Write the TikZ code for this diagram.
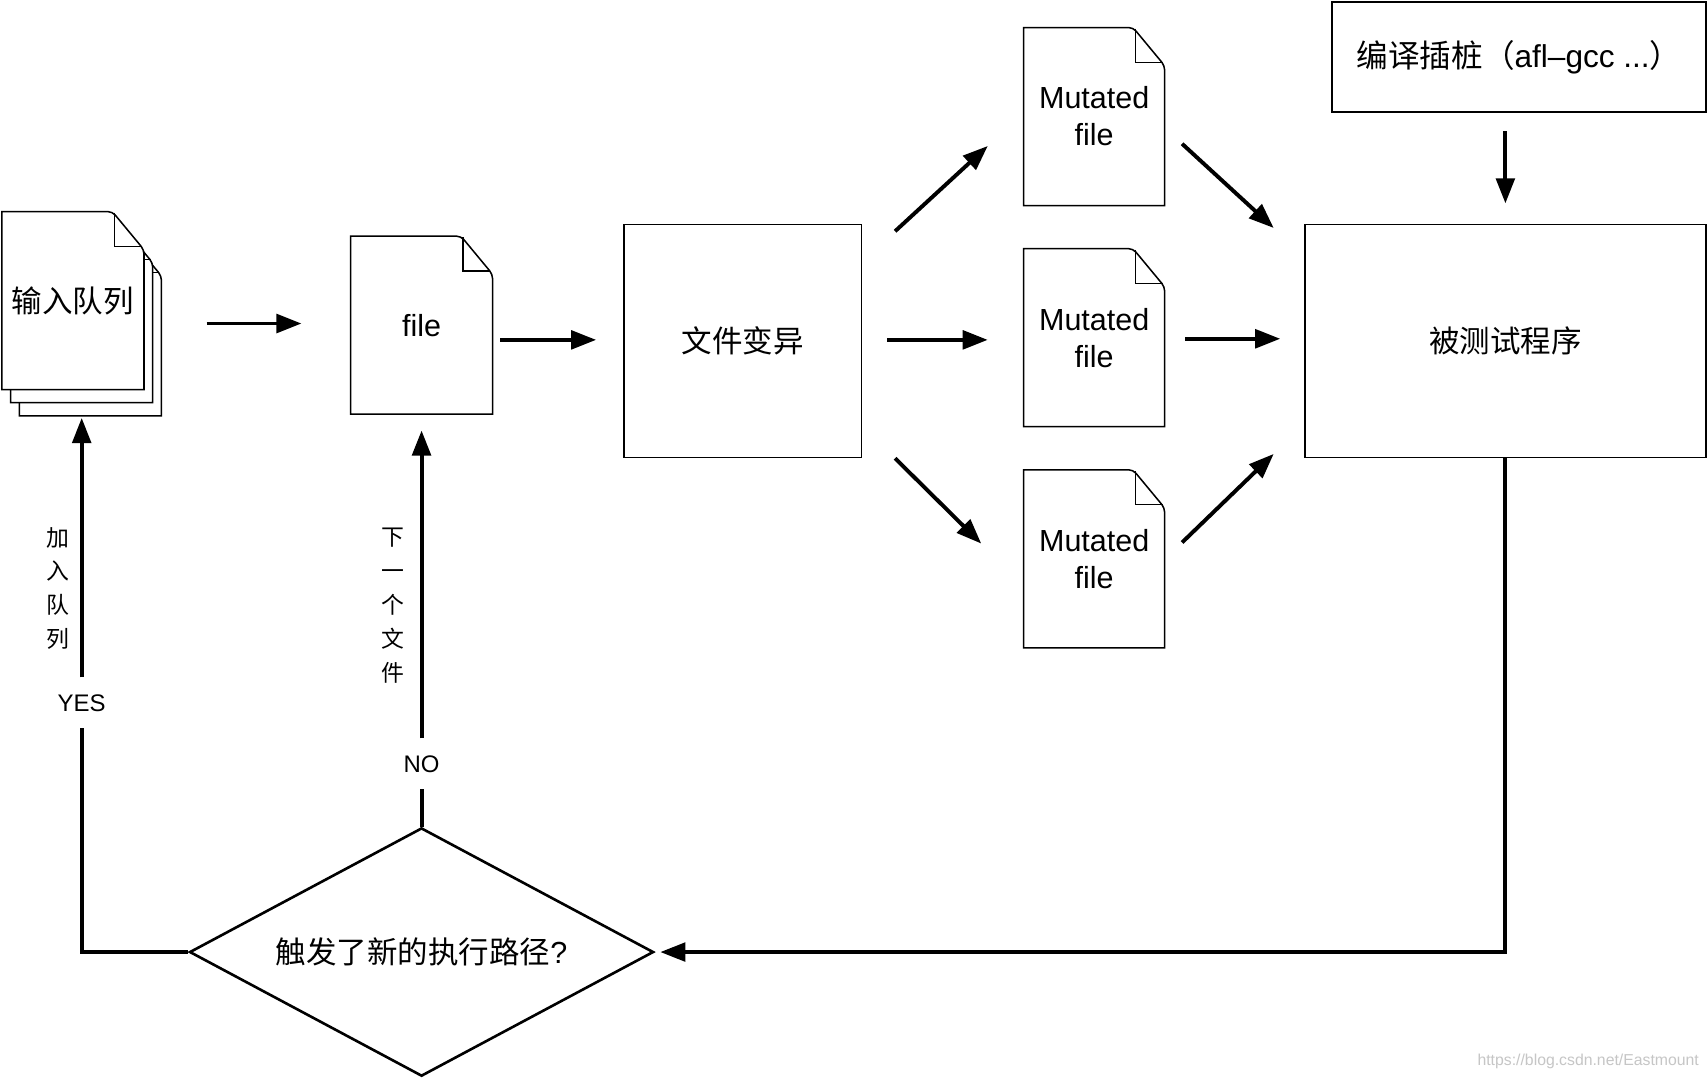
\documentclass[tikz,border=0pt]{standalone}
\usepackage{fontspec}
\setmainfont{Liberation Sans}
\newfontfamily\cjk{Noto Sans CJK SC}
\usetikzlibrary{arrows.meta,calc,shapes.geometric,backgrounds}
\newcommand\docpaper[3]{%
  \filldraw[docline] ($(#1.south west)+(#2,#3)$) -- ($(#1.north west)+(#2,#3)$)
    [rounded corners=4pt] -- ($(#1.north east)+(#2-29,#3)$) -- ($(#1.north east)+(#2,#3+35)$)
    [sharp corners] -- ($(#1.south east)+(#2,#3)$) -- cycle;
  \draw[docline, fill=none] ($(#1.north east)+(#2-27,#3+1)$) -- ($(#1.north east)+(#2-27,#3+32)$) -- ($(#1.north east)+(#2-2,#3+32)$);
}
\begin{document}
\begin{tikzpicture}[x=1pt,y=-1pt,
  big/.style={font=\fontsize{28pt}{34pt}\selectfont},
  docnode/.style={big, minimum width=130pt, minimum height=163pt, inner sep=0pt, align=center},
  boxnode/.style={big, draw, line width=1.4pt, inner sep=0pt},
  docline/.style={line width=1.4pt, draw=black, fill=white},
  conn/.style={line width=3.6pt},
  arr/.style={conn, -{Triangle[length=23pt,width=17pt]}},
  yn/.style={font=\fontsize{22pt}{26pt}\selectfont, text height=16pt, text depth=0pt, inner xsep=0pt, inner ysep=15pt},
  vlab/.style={font=\cjk\fontsize{21pt}{31pt}\selectfont, align=center, inner sep=0pt},
]
\useasboundingbox (0,0) rectangle (1568,991.4);

% nodes
\node[docnode] (q) at (67,276) {\cjk 输入队列};
\node[docnode] (f) at (387,298.5) {file};
\node[boxnode, minimum width=218pt, minimum height=214pt] (mut) at (682,313) {\cjk 文件变异};
\node[docnode, minimum width=129pt] (m1) at (1004.5,107) {Mutated\\file};
\node[docnode, minimum width=129pt] (m2) at (1004.5,310) {Mutated\\file};
\node[docnode, minimum width=129pt] (m3) at (1004.5,513) {Mutated\\file};
\node[boxnode, minimum width=368pt, minimum height=214pt] (p) at (1382,313) {\cjk 被测试程序};
\node[boxnode, minimum width=343pt, minimum height=101pt, font=\fontsize{29pt}{34pt}\selectfont] (c) at (1394.5,52.5) {{\cjk 编译插桩（}afl–gcc ...{\cjk ）}\hspace{4pt}};
\node[draw, diamond, aspect=1.87, minimum width=426pt, minimum height=228pt, inner sep=0pt, line width=2.4pt, big] (d) at (387,874) {{\cjk 触发了新的执行路径}?};
\node[yn] (yes) at (75,645) {YES};
\node[yn] (no) at (387,701) {NO};
\node[vlab] (lq) at (53,540) {加\\入\\队\\列};
\node[vlab] (ln) at (361,556) {下\\一\\个\\文\\件};
\node[font=\fontsize{14.5pt}{17pt}\selectfont, text=gray!45] (wm) at (1458,974) {https://blog.csdn.net/Eastmount};

% document outlines behind the texts
\begin{scope}[on background layer]
  \fill[white] (0,0) rectangle (1568,991.4);
  \docpaper{q}{16}{24}
  \docpaper{q}{8}{12}
  \docpaper{q}{0}{0}
  \docpaper{f}{0}{0}
  \docpaper{m1}{0}{0}
  \docpaper{m2}{0}{0}
  \docpaper{m3}{0}{0}
\end{scope}

% connectors
\draw[arr] ($(f.west)+(-132,-1.5)$) -- ($(f.west)+(-45,-1.5)$);
\draw[arr] ($(mut.west)+(-113,-1)$) -- ($(mut.west)+(-25,-1)$);
\draw[arr] ($(mut.north east)+(30,7)$) -- ($(m1.west)+(-33,27)$);
\draw[arr] ($(mut.east)+(23,-1)$) -- ($(m2.west)+(-33,2)$);
\draw[arr] ($(mut.south east)+(30,0)$) -- ($(m3.west)+(-39,-14)$);
\draw[arr] ($(m1.east)+(16,25)$) -- ($(p.north west)+(-28,4)$);
\draw[arr] ($(m2.east)+(19,1)$) -- ($(p.west)+(-22,-2)$);
\draw[arr] ($(m3.east)+(16,-15)$) -- ($(p.south west)+(-28,-4)$);
\draw[arr] ($(c.south)+(-12.5,17)$) -- ($(c.south)+(-12.5,83)$);
\draw[arr] (p.south) |- ($(d.east)+(5,0)$);
\draw[conn] (d.west) -| (yes.south);
\draw[arr] (yes.north) -- ($(q.south)+(8,26)$);
\draw[conn] (d.north) -- (no.south);
\draw[arr] (no.north) -- ($(f.south)+(0,15)$);
\end{tikzpicture}
\end{document}
